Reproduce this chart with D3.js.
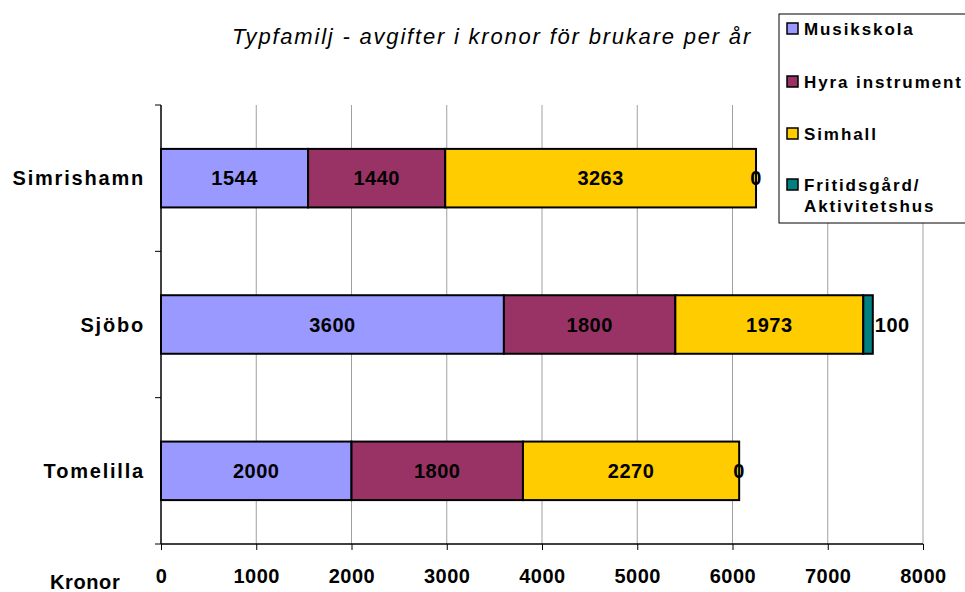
<!DOCTYPE html>
<html>
<head>
<meta charset="utf-8">
<script src="https://cdn.jsdelivr.net/npm/d3@7"></script>
<style>
  body { margin: 0; background: #fff; }
  text { font-family: "Liberation Sans", Arial, sans-serif; }
</style>
</head>
<body>
<svg width="965" height="592"></svg>
<script>
var categories = ["Simrishamn", "Sjöbo", "Tomelilla"];
var seriesNames = ["Musikskola", "Hyra instrument", "Simhall", "Fritidsgård/Aktivitetshus"];
var musikskola = [1544, 3600, 2000];
var hyra = [1440, 1800, 1800];
var simhall = [3263, 1973, 2270];
var fritid = [0, 100, 0];
var xTicks = [0, 1000, 2000, 3000, 4000, 5000, 6000, 7000, 8000];

var color = ["#9999FF", "#993366", "#FFCC00", "#008080"];

var svg = d3.select("svg");
var plotLeft = 161, plotRight = 923, plotTop = 105, plotBottom = 544;

var rows = categories.map(function(c, i){
  return {cat: c, 0: musikskola[i], 1: hyra[i], 2: simhall[i], 3: fritid[i]};
});
var stack = d3.stack().keys([0,1,2,3])(rows);

var x = d3.scaleLinear().domain([0, 8000]).range([plotLeft, plotRight]);
var y = d3.scaleBand().domain(categories).range([plotTop, plotBottom]).paddingInner(0.6).paddingOuter(0.3);

// gridlines
svg.append("g").selectAll("line").data(xTicks.slice(1)).join("line")
  .attr("x1", d=>x(d)).attr("x2", d=>x(d))
  .attr("y1", plotTop).attr("y2", plotBottom)
  .attr("stroke", "#a0a0a0").attr("stroke-width", 1);

// bars
var layer = svg.append("g").selectAll("g").data(stack).join("g")
  .attr("fill", (d,i)=>color[i]);
layer.selectAll("rect").data(d=>d).join("rect")
  .attr("x", d=>x(d[0]))
  .attr("width", d=>x(d[1]) - x(d[0]))
  .attr("y", d=>y(d.data.cat))
  .attr("height", y.bandwidth())
  .attr("stroke", "#000").attr("stroke-width", 2);

// value labels
stack.forEach(function(s, k){
  svg.append("g").selectAll("text").data(s).join("text")
    .attr("x", function(d){
      var v = d[1]-d[0];
      if (k == 3 && v > 0) return x(d[1]) + 2;
      return (x(d[0]) + x(d[1]))/2;
    })
    .attr("text-anchor", d=>(k == 3 && d[1]-d[0] > 0) ? "start" : "middle")
    .attr("y", d=>y(d.data.cat) + y.bandwidth()/2 + 7)
    .attr("font-size", "20px").attr("font-weight", "bold").attr("letter-spacing", "0.5px")
    .text(d=>d[1]-d[0]);
});

// axes
var xAxis = d3.axisBottom(x).tickValues(xTicks).tickSize(6).tickFormat(d3.format("d"));
var gx = svg.append("g").attr("transform", "translate(0," + plotBottom + ")").call(xAxis);
gx.select(".domain").attr("stroke", "#000").attr("stroke-width", 1.5).attr("d", "M" + plotLeft + ",0H" + plotRight);
gx.selectAll("text").attr("font-size", "20px").attr("font-weight", "bold").attr("letter-spacing", "0.5px")
  .attr("font-family", "Liberation Sans, Arial, sans-serif").attr("y", 39).attr("dy", null).attr("fill", "#000");

var yTickPos = [plotTop, plotTop + (plotBottom-plotTop)/3, plotTop + 2*(plotBottom-plotTop)/3, plotBottom];
svg.append("line").attr("x1", plotLeft).attr("x2", plotLeft).attr("y1", plotTop).attr("y2", plotBottom)
  .attr("stroke", "#000").attr("stroke-width", 1.5);
svg.append("g").selectAll("line").data(yTickPos).join("line")
  .attr("x1", plotLeft - 6).attr("x2", plotLeft).attr("y1", d=>d).attr("y2", d=>d)
  .attr("stroke", "#000");

svg.append("g").selectAll("text").data(categories).join("text")
  .attr("x", 145).attr("y", d=>y(d) + y.bandwidth()/2 + 7)
  .attr("text-anchor", "end").attr("font-size", "20px").attr("font-weight", "bold")
  .attr("letter-spacing", "1.8px")
  .text(d=>d);

svg.append("text").attr("x", 50).attr("y", 589)
  .attr("font-size", "20px").attr("font-weight", "bold").attr("letter-spacing", "0.6px").text("Kronor");

svg.append("text").attr("x", 492).attr("y", 44).attr("text-anchor", "middle")
  .attr("font-size", "22px").attr("font-style", "italic").attr("letter-spacing", "1.8px")
  .text("Typfamilj - avgifter i kronor för brukare per år");

// legend
var lg = svg.append("g");
lg.append("rect").attr("x", 779).attr("y", 14).attr("width", 200).attr("height", 209)
  .attr("fill", "#fff").attr("stroke", "#000").attr("stroke-width", 1);
var legY = [28.5, 81.5, 133.5, 184.5];
var legLines = [["Musikskola"], ["Hyra instrument"], ["Simhall"], ["Fritidsgård/", "Aktivitetshus"]];
seriesNames.forEach(function(n, i){
  lg.append("rect").attr("x", 787).attr("y", legY[i] - 5.5).attr("width", 11).attr("height", 11)
    .attr("fill", color[i]).attr("stroke", "#000").attr("stroke-width", 1.5);
  legLines[i].forEach(function(t, j){
    lg.append("text").attr("x", 804).attr("y", legY[i] + 6.5 + j*21)
      .attr("font-size", "17px").attr("font-weight", "bold").attr("letter-spacing", "1.9px")
      .text(t);
  });
});
</script>
</body>
</html>
